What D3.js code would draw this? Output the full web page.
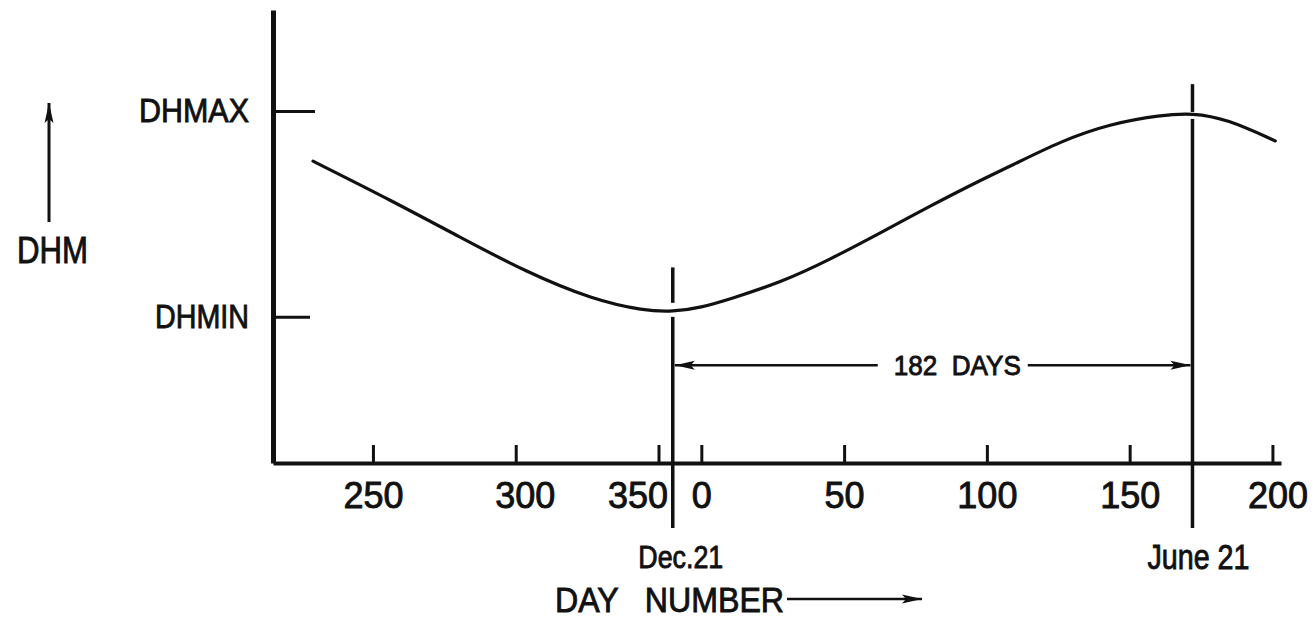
<!DOCTYPE html>
<html>
<head>
<meta charset="utf-8">
<script src="https://cdn.jsdelivr.net/npm/d3@7"></script>
<style>
  body { margin: 0; background: #fff; }
  svg text { font-family: "Liberation Sans", Arial, sans-serif; fill: #111; stroke: #111; stroke-width: 0.9px; white-space: pre; }
</style>
</head>
<body>
<div id="chart"></div>
<script>
// day numbers (it runs past 365 and starts again at 0)
var curveDays = [229, 257, 280, 304, 327, 345, 355, 0, 10, 28, 45, 63, 80, 98, 108, 126, 143, 161, 172, 184, 201];
// DHM, 0 = DHMIN mark, 1 = DHMAX mark
var curveDHM = [0.756, 0.561, 0.39, 0.215, 0.083, 0.029, 0.024, 0.045, 0.086, 0.168, 0.278, 0.41, 0.537, 0.665, 0.73, 0.854, 0.937, 0.98, 0.99, 0.961, 0.854];

var xTickDays = [250, 300, 350, 0, 50, 100, 150, 200];
var yTickValues = [0, 1];
var yTickLabels = ["DHMIN", "DHMAX"];
var markerDays = [355, 172];
var markerLabels = ["Dec.21", "June 21"];
var spanLabel = "182  DAYS";

var svgWidth = 1316, svgHeight = 622;

var svg = d3.select("#chart")
  .append("svg")
  .attr("width", svgWidth)
  .attr("height", svgHeight);

// days after Dec 31 continue past 365
function unwrap(d) { return d < 210 ? d + 365 : d; }

var x = d3.scaleLinear().domain([215, 568]).range([273, 1281]);
var y = d3.scaleLinear().domain([-0.71, 1.49]).range([463, 10]);
var axisY = y(-0.71);

// arrow head
var defs = svg.append("defs");
defs.append("marker")
  .attr("id", "head")
  .attr("markerUnits", "userSpaceOnUse")
  .attr("viewBox", "0 0 20 10")
  .attr("refX", 20).attr("refY", 5)
  .attr("markerWidth", 20).attr("markerHeight", 10)
  .attr("orient", "auto-start-reverse")
  .append("path")
  .attr("d", "M0,0.5 L20,5 L0,9.5 L4,5 Z")
  .attr("fill", "#111");

// x axis
var xAxis = d3.axisBottom(x)
  .tickValues(xTickDays.map(unwrap))
  .tickFormat(function(t) { return t >= 365 ? t - 365 : t; })
  .tickSizeInner(-18)
  .tickSizeOuter(0)
  .tickPadding(19);

var gx = svg.append("g")
  .attr("transform", "translate(0," + axisY + ")")
  .call(xAxis);
gx.select(".domain").attr("stroke", "#111").attr("stroke-width", 4);
gx.selectAll(".tick line").attr("stroke", "#111").attr("stroke-width", 3);
var nudge = {300: 9, 350: -21, 565: 5};
gx.selectAll(".tick text")
  .attr("font-size", 36)
  .attr("dx", function(t) { return nudge[t] || 0; });

// y axis
var yAxis = d3.axisLeft(y)
  .tickValues(yTickValues)
  .tickFormat(function(v, i) { return yTickLabels[i]; })
  .tickSizeInner(-40)
  .tickSizeOuter(0)
  .tickPadding(24);

var gy = svg.append("g")
  .attr("transform", "translate(" + x(215) + ",0)")
  .call(yAxis);
gy.select(".domain").attr("stroke", "#111").attr("stroke-width", 5);
gy.selectAll(".tick line")
  .attr("stroke", "#111").attr("stroke-width", 3)
  .attr("x2", function(v) { return v === 1 ? 42 : 37; });
gy.selectAll(".tick text")
  .attr("font-size", 34)
  .attr("lengthAdjust", "spacingAndGlyphs")
  .attr("textLength", function(v) { return v === 1 ? 110 : 94; });

// the curve
var pts = curveDays.map(function(d, i) { return {day: d, dhm: curveDHM[i]}; });
var line = d3.line()
  .x(function(d) { return x(unwrap(d.day)); })
  .y(function(d) { return y(d.dhm); })
  .curve(d3.curveBasis);

svg.append("path")
  .datum(pts)
  .attr("d", line)
  .attr("fill", "none")
  .attr("stroke", "#111")
  .attr("stroke-width", 3.2)
  .attr("stroke-linecap", "round");

// solstice lines, broken where they meet the curve
var tops = [y(0.24), y(1.13)];
var gaps = [[-9, 5], [-1, 6]];
markerDays.forEach(function(d, i) {
  var mx = x(unwrap(d));
  var cy = y(curveDHM[curveDays.indexOf(d)]);
  var bottom = axisY + 65;
  svg.append("line")
    .attr("x1", mx).attr("x2", mx)
    .attr("y1", tops[i]).attr("y2", cy + gaps[i][0])
    .attr("stroke", "#111").attr("stroke-width", 3.5);
  svg.append("line")
    .attr("x1", mx).attr("x2", mx)
    .attr("y1", cy + gaps[i][1]).attr("y2", bottom)
    .attr("stroke", "#111").attr("stroke-width", 3.5);
  svg.append("text")
    .attr("x", mx + (i === 0 ? 8 : 6))
    .attr("y", axisY + (i === 0 ? 105 : 106))
    .attr("text-anchor", "middle")
    .attr("font-size", i === 0 ? 32 : 35)
    .attr("lengthAdjust", "spacingAndGlyphs")
    .attr("textLength", i === 0 ? 85 : 102)
    .text(markerLabels[i]);
});

// 182 days span
var x0 = x(unwrap(markerDays[0])), x1 = x(unwrap(markerDays[1]));
var spanY = y(-0.235);
svg.append("line")
  .attr("x1", x0 + 205).attr("x2", x0 + 2)
  .attr("y1", spanY).attr("y2", spanY)
  .attr("stroke", "#111").attr("stroke-width", 2.5)
  .attr("marker-end", "url(#head)");
svg.append("text")
  .attr("x", x0 + 221)
  .attr("y", spanY + 10)
  .attr("font-size", 28)
  .attr("lengthAdjust", "spacingAndGlyphs")
  .attr("textLength", 127)
  .text(spanLabel);
svg.append("line")
  .attr("x1", x0 + 355).attr("x2", x1 - 2)
  .attr("y1", spanY).attr("y2", spanY)
  .attr("stroke", "#111").attr("stroke-width", 2.5)
  .attr("marker-end", "url(#head)");

// axis titles
svg.append("text")
  .attr("x", 555)
  .attr("y", 612)
  .attr("font-size", 35)
  .attr("lengthAdjust", "spacingAndGlyphs")
  .attr("textLength", 229)
  .text("DAY   NUMBER");
svg.append("line")
  .attr("x1", 787).attr("x2", 922)
  .attr("y1", 599).attr("y2", 599)
  .attr("stroke", "#111").attr("stroke-width", 2.5)
  .attr("marker-end", "url(#head)");

svg.append("text")
  .attr("x", 17)
  .attr("y", 263)
  .attr("font-size", 37)
  .attr("lengthAdjust", "spacingAndGlyphs")
  .attr("textLength", 71)
  .text("DHM");
svg.append("line")
  .attr("x1", 49).attr("x2", 49)
  .attr("y1", 222).attr("y2", 103)
  .attr("stroke", "#111").attr("stroke-width", 3)
  .attr("marker-end", "url(#head)");
</script>
</body>
</html>
